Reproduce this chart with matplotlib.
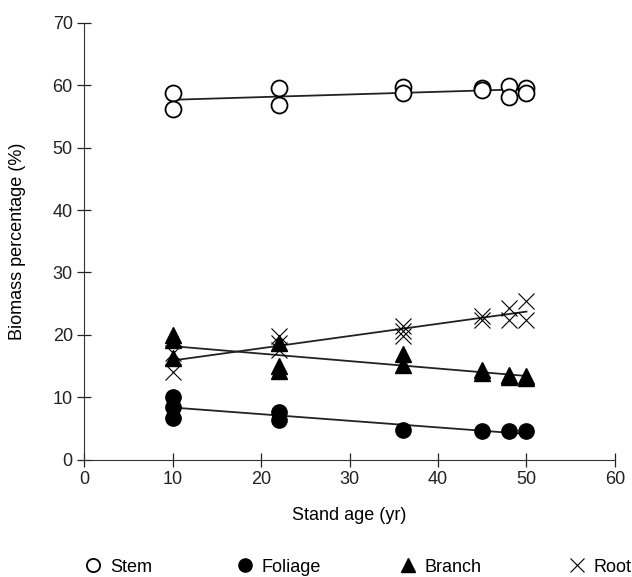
import numpy as np
import matplotlib.pyplot as plt
from matplotlib.lines import Line2D

plt.rcParams['font.family'] = ['Liberation Sans', 'DejaVu Sans']
plt.rcParams['font.size'] = 13

# data
stem_age = [10, 10, 22, 22, 36, 36, 45, 45, 48, 48, 50, 50]
stem_pct = [58.8, 56.2, 59.6, 56.8, 59.8, 58.8, 59.5, 59.2, 59.9, 58.1, 59.6, 58.8]

foliage_age = [10, 10, 10, 22, 22, 36, 45, 48, 50]
foliage_pct = [10.1, 8.5, 6.7, 7.7, 6.4, 4.8, 4.5, 4.5, 4.5]

branch_age = [10, 10, 10, 22, 22, 22, 36, 36, 45, 45, 48, 48, 50, 50]
branch_pct = [19.9, 19.2, 16.3, 18.7, 15.0, 14.2, 17.0, 15.2, 14.3, 13.9, 13.6, 13.2, 13.4, 13.0]

root_age = [10, 10, 22, 22, 22, 36, 36, 36, 45, 45, 48, 48, 50, 50]
root_pct = [17.1, 14.1, 19.8, 18.7, 17.6, 21.4, 20.6, 19.8, 23.0, 22.4, 24.3, 22.4, 25.4, 22.4]

fig = plt.figure(figsize=(6.32, 5.77), dpi=100)
ax = fig.add_axes([0.1334, 0.2036, 0.8396, 0.7566])

styles = {
    'Stem': dict(marker='o', mfc='white', mec='black', ms=11.5, mew=1.3),
    'Foliage': dict(marker='o', mfc='black', mec='black', ms=11, mew=1),
    'Branch': dict(marker='^', mfc='black', mec='black', ms=11, mew=1),
    'Root': dict(marker='x', color='black', ms=11, mew=0.8),
}
series = [('Stem', stem_age, stem_pct), ('Foliage', foliage_age, foliage_pct),
          ('Branch', branch_age, branch_pct), ('Root', root_age, root_pct)]

for name, x, y in series:
    k, b = np.polyfit(x, y, 1)
    xs = np.array([min(x), max(x)])
    ax.plot(xs, k * xs + b, color='#222222', lw=1.3, zorder=3)
    ax.plot(x, y, ls='none', zorder=4, **styles[name])

ax.set_xlim(0, 60)
ax.set_ylim(0, 70)
ax.set_xticks(range(0, 61, 10))
ax.set_yticks(range(0, 71, 10))
ax.spines['top'].set_visible(False)
ax.spines['right'].set_visible(False)
for s in ['left', 'bottom']:
    ax.spines[s].set_color('#333333')
ax.tick_params(direction='inout', length=10.5, width=0.9, colors='#222222', labelsize=13, pad=3)
ax.set_xlabel('Stand age (yr)', fontsize=13)
ax.set_ylabel('Biomass percentage (%)', fontsize=13)
ax.xaxis.set_label_coords(0.5, -0.109)
ax.yaxis.set_label_coords(-0.109, 0.5)

legend_x = [0.1329, 0.3734, 0.6313, 0.8987]
for (name, _, _), lx in zip(series, legend_x):
    st = dict(styles[name])
    st['ms'] = 9.5
    h = Line2D([], [], ls='none', **st)
    fig.legend(handles=[h], labels=[name], loc='center left', bbox_to_anchor=(lx, 0.0173),
               frameon=False, handlelength=1.0, handletextpad=0.44, borderpad=0,
               borderaxespad=0, fontsize=13)

fig.savefig('out.png', dpi=100)
